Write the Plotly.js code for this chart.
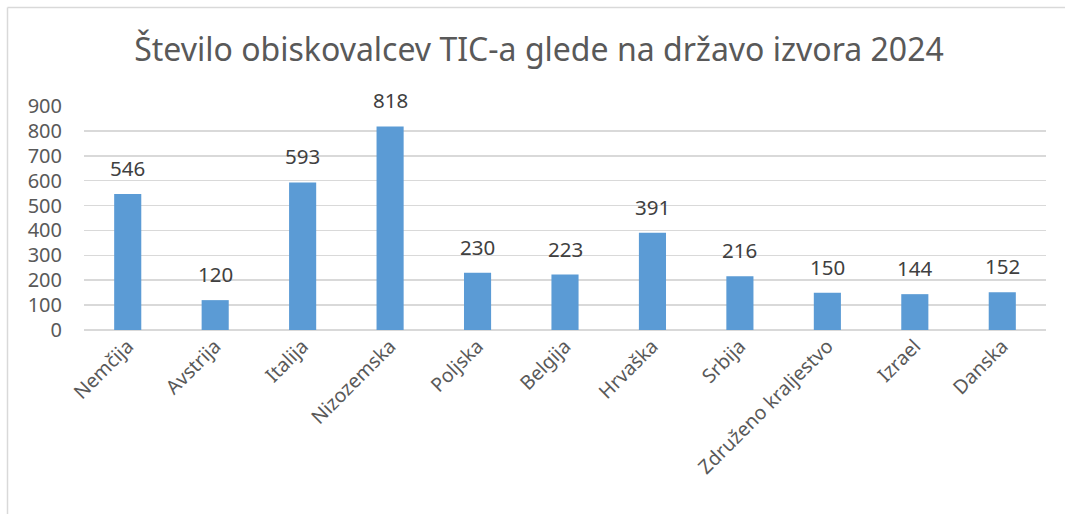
<!DOCTYPE html>
<html>
<head>
<meta charset="utf-8">
<script src="https://cdn.plot.ly/plotly-3.0.1.min.js"></script>
<style>
html,body{margin:0;padding:0;background:#fff;}
#chart{width:1065px;height:514px;}
</style>
</head>
<body>
<div id="chart"></div>
<script>
const chartTitle = "Število obiskovalcev TIC-a glede na državo izvora 2024";
const categories = ["Nemčija","Avstrija","Italija","Nizozemska","Poljska","Belgija","Hrvaška","Srbija","Združeno kraljestvo","Izrael","Danska"];
const visitors = [546,120,593,818,230,223,391,216,150,144,152];
const yTicks = [0,100,200,300,400,500,600,700,800,900];

const FONT = "Noto Sans, Open Sans, sans-serif";
const W = 1065, H = 514;
const mL = 84, mR = 19, mT = 106, mB = 184;
const pw = W - mL - mR, ph = H - mT - mB;
const px = v => (v - mL) / pw;
const py = v => (H - mB - v) / ph;

const trace = {
  type: "bar",
  x: categories,
  y: visitors,
  marker: {color: "#5B9BD5"},
  hoverinfo: "x+y"
};

const annotations = categories.map((c, i) => ({
  x: c, y: visitors[i], xref: "x", yref: "y",
  text: String(visitors[i]),
  showarrow: false, yanchor: "bottom", yshift: 10,
  font: {family: FONT, size: 20.5, color: "#404040"}
}));

const layout = {
  width: W, height: H,
  margin: {l: mL, r: mR, t: mT, b: mB},
  paper_bgcolor: "#ffffff",
  plot_bgcolor: "#ffffff",
  showlegend: false,
  bargap: 0.69,
  title: {
    text: chartTitle,
    font: {family: FONT, size: 32, color: "#595959"},
    x: 539 / W, xanchor: "center", xref: "container",
    y: 1 - 50 / H, yanchor: "middle", yref: "container"
  },
  xaxis: {
    type: "category",
    tickangle: -45,
    tickfont: {family: FONT, size: 19.5, color: "#595959"},
    showgrid: false, showline: false, ticks: "", zeroline: false,
    fixedrange: true
  },
  yaxis: {
    range: [0, 900],
    tickvals: yTicks,
    ticktext: yTicks.map(String),
    tickfont: {family: FONT, size: 20, color: "#595959"},
    showgrid: true, gridcolor: "#d9d9d9", gridwidth: 1.5,
    zeroline: true, zerolinecolor: "#d9d9d9", zerolinewidth: 1.5,
    showline: false, ticks: "", ticklabelstandoff: 21,
    fixedrange: true
  },
  annotations: annotations,
  shapes: [
    {type: "line", xref: "paper", yref: "paper", x0: px(7.5), x1: px(1070), y0: py(7.5), y1: py(7.5),
     line: {color: "#d9d9d9", width: 1.5}},
    {type: "line", xref: "paper", yref: "paper", x0: px(7.5), x1: px(7.5), y0: py(7.5), y1: py(520),
     line: {color: "#d9d9d9", width: 1.5}}
  ]
};

Plotly.newPlot("chart", [trace], layout, {displayModeBar: false, staticPlot: true});
</script>
</body>
</html>
